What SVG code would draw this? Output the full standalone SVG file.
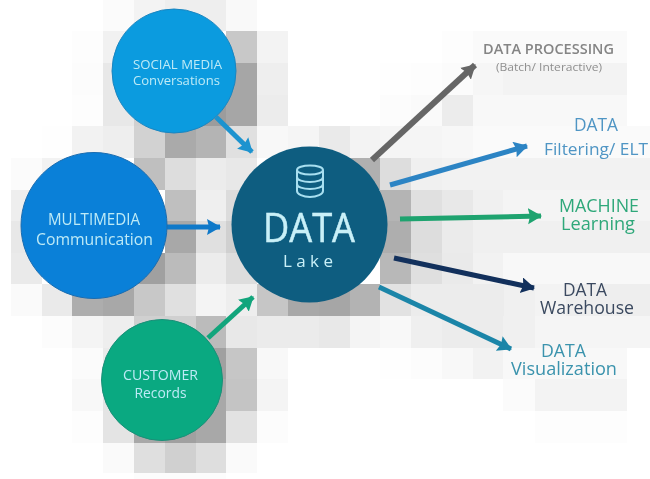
<svg xmlns="http://www.w3.org/2000/svg" width="650" height="479" viewBox="0 0 650 479">
<style>
text{font-family:"Open Sans","Noto Sans","Liberation Sans",sans-serif;text-anchor:middle;filter:url(#soft)}
.in{fill:#bdeaf6}
.lw{stroke:#a8dff0;fill:none;stroke-width:2}
.c{fill:none;stroke-width:5}
</style>
<defs>
<filter id="soft" x="-10%" y="-20%" width="120%" height="140%"><feGaussianBlur stdDeviation="0.55"/></filter>
<filter id="tile" x="-5%" y="-5%" width="110%" height="110%"><feGaussianBlur stdDeviation="0.5"/></filter>
<marker id="mSoc" markerUnits="userSpaceOnUse" markerWidth="18" markerHeight="18" refX="13" refY="8" orient="auto"><path d="M0 0L14 8L0 16L2 8Z" fill="#1c93cf"/></marker>
<marker id="mMul" markerUnits="userSpaceOnUse" markerWidth="18" markerHeight="18" refX="13" refY="8" orient="auto"><path d="M0 0L14 8L0 16L2 8Z" fill="#0f79c9"/></marker>
<marker id="mCus" markerUnits="userSpaceOnUse" markerWidth="18" markerHeight="18" refX="13" refY="8" orient="auto"><path d="M0 0L14 8L0 16L2 8Z" fill="#12a57c"/></marker>
<marker id="mPro" markerUnits="userSpaceOnUse" markerWidth="18" markerHeight="18" refX="13" refY="8" orient="auto"><path d="M0 0L14 8L0 16L2 8Z" fill="#666"/></marker>
<marker id="mFil" markerUnits="userSpaceOnUse" markerWidth="18" markerHeight="18" refX="13" refY="8" orient="auto"><path d="M0 0L14 8L0 16L2 8Z" fill="#2c84c4"/></marker>
<marker id="mMac" markerUnits="userSpaceOnUse" markerWidth="18" markerHeight="18" refX="13" refY="8" orient="auto"><path d="M0 0L14 8L0 16L2 8Z" fill="#1ea36f"/></marker>
<marker id="mWar" markerUnits="userSpaceOnUse" markerWidth="18" markerHeight="18" refX="13" refY="8" orient="auto"><path d="M0 0L14 8L0 16L2 8Z" fill="#12305c"/></marker>
<marker id="mVis" markerUnits="userSpaceOnUse" markerWidth="18" markerHeight="18" refX="13" refY="8" orient="auto"><path d="M0 0L14 8L0 16L2 8Z" fill="#1b85a8"/></marker>
</defs>
<rect width="650" height="479" fill="#fff"/>
<g id="backdrop" filter="url(#tile)">
<rect x="103" y="0" width="31" height="31" fill="#fbfbfb"/><rect x="134" y="0" width="31" height="31" fill="#f3f3f3"/><rect x="165" y="0" width="61" height="31" fill="#eee"/><rect x="226" y="0" width="31" height="31" fill="#f9f9f9"/>
<rect x="72" y="31" width="31" height="32" fill="#fdfdfd"/><rect x="103" y="31" width="31" height="32" fill="#f1f1f1"/><rect x="226" y="31" width="31" height="32" fill="#c8c8c8"/><rect x="257" y="31" width="31" height="32" fill="#f3f3f3"/>
<rect x="72" y="63" width="31" height="32" fill="#fcfcfc"/><rect x="103" y="63" width="31" height="32" fill="#e8e8e8"/><rect x="226" y="63" width="31" height="32" fill="#a6a6a6"/><rect x="257" y="63" width="31" height="32" fill="#eee"/>
<rect x="72" y="95" width="31" height="31" fill="#fdfdfd"/><rect x="103" y="95" width="31" height="31" fill="#e8e8e8"/><rect x="134" y="95" width="31" height="31" fill="#d0d0d0"/><rect x="196" y="95" width="30" height="31" fill="#9c9c9c"/><rect x="226" y="95" width="31" height="31" fill="#a6a6a6"/><rect x="257" y="95" width="31" height="31" fill="#ececec"/>
<rect x="42" y="126" width="30" height="32" fill="#fefefe"/><rect x="72" y="126" width="31" height="32" fill="#f2f2f2"/><rect x="103" y="126" width="31" height="32" fill="#eee"/><rect x="134" y="126" width="31" height="32" fill="#d2d2d2"/><rect x="165" y="126" width="31" height="32" fill="#aaa"/><rect x="196" y="126" width="30" height="32" fill="#b4b4b4"/><rect x="226" y="126" width="31" height="32" fill="#e0e0e0"/><rect x="257" y="126" width="31" height="32" fill="#f8f8f8"/><rect x="288" y="126" width="31" height="32" fill="#f5f5f5"/><rect x="319" y="126" width="31" height="32" fill="#eaeaea"/><rect x="350" y="126" width="30" height="32" fill="#f3f3f3"/><rect x="380" y="126" width="62" height="32" fill="#f5f5f5"/><rect x="442" y="126" width="31" height="32" fill="#f7f7f7"/><rect x="473" y="126" width="177" height="32" fill="#fafafa"/>
<rect x="442" y="31" width="31" height="32" fill="#fdfdfd"/><rect x="473" y="31" width="154" height="32" fill="#fafafa"/>
<rect x="380" y="63" width="31" height="32" fill="#fefefe"/><rect x="411" y="63" width="31" height="32" fill="#fdfdfd"/><rect x="442" y="63" width="31" height="32" fill="#fbfbfb"/><rect x="473" y="63" width="30" height="32" fill="#f6f6f6"/><rect x="503" y="63" width="124" height="32" fill="#f3f3f3"/>
<rect x="380" y="95" width="31" height="31" fill="#fcfcfc"/><rect x="411" y="95" width="31" height="31" fill="#fafafa"/><rect x="442" y="95" width="31" height="31" fill="#ececec"/><rect x="473" y="95" width="154" height="31" fill="#f8f8f8"/>
<rect x="11" y="158" width="31" height="32" fill="#fbfbfb"/><rect x="42" y="158" width="30" height="32" fill="#f2f2f2"/><rect x="134" y="158" width="31" height="32" fill="#bfbfbf"/><rect x="165" y="158" width="31" height="32" fill="#ddd"/><rect x="196" y="158" width="30" height="32" fill="#ececec"/><rect x="226" y="158" width="31" height="32" fill="#e8e8e8"/><rect x="350" y="158" width="30" height="32" fill="#b0b0b0"/><rect x="380" y="158" width="31" height="32" fill="#ddd"/><rect x="411" y="158" width="31" height="32" fill="#f0f0f0"/><rect x="442" y="158" width="208" height="32" fill="#f2f2f2"/>
<rect x="11" y="190" width="31" height="31" fill="#eee"/><rect x="165" y="190" width="31" height="31" fill="#bfbfbf"/><rect x="196" y="190" width="30" height="31" fill="#efefef"/><rect x="226" y="190" width="31" height="31" fill="#dcdcdc"/><rect x="380" y="190" width="31" height="31" fill="#b4b4b4"/><rect x="411" y="190" width="31" height="31" fill="#e0e0e0"/><rect x="442" y="190" width="31" height="31" fill="#e8e8e8"/><rect x="473" y="190" width="30" height="31" fill="#f0f0f0"/><rect x="503" y="190" width="147" height="31" fill="#f4f4f4"/>
<rect x="11" y="221" width="31" height="32" fill="#e8e8e8"/><rect x="165" y="221" width="31" height="32" fill="#a8a8a8"/><rect x="196" y="221" width="30" height="32" fill="#e0e0e0"/><rect x="226" y="221" width="31" height="32" fill="#d0d0d0"/><rect x="380" y="221" width="31" height="32" fill="#aeaeae"/><rect x="411" y="221" width="31" height="32" fill="#ddd"/><rect x="442" y="221" width="31" height="32" fill="#ebebeb"/><rect x="473" y="221" width="177" height="32" fill="#f0f0f0"/>
<rect x="11" y="253" width="31" height="31" fill="#eaeaea"/><rect x="134" y="253" width="31" height="31" fill="#a0a0a0"/><rect x="165" y="253" width="31" height="31" fill="#bbb"/><rect x="196" y="253" width="30" height="31" fill="#ececec"/><rect x="226" y="253" width="31" height="31" fill="#ddd"/><rect x="380" y="253" width="31" height="31" fill="#b8b8b8"/><rect x="411" y="253" width="31" height="31" fill="#dfdfdf"/><rect x="442" y="253" width="31" height="31" fill="#eaeaea"/><rect x="473" y="253" width="30" height="31" fill="#f2f2f2"/><rect x="503" y="253" width="147" height="31" fill="#f8f8f8"/>
<rect x="11" y="284" width="31" height="32" fill="#fafafa"/><rect x="42" y="284" width="30" height="32" fill="#eaeaea"/><rect x="72" y="284" width="31" height="32" fill="#adadad"/><rect x="103" y="284" width="31" height="32" fill="#a8a8a8"/><rect x="134" y="284" width="31" height="32" fill="#c8c8c8"/><rect x="165" y="284" width="31" height="32" fill="#e0e0e0"/><rect x="196" y="284" width="30" height="32" fill="#f4f4f4"/><rect x="226" y="284" width="31" height="32" fill="#eee"/><rect x="257" y="284" width="31" height="32" fill="#c6c6c6"/><rect x="288" y="284" width="31" height="32" fill="#a8a8a8"/><rect x="319" y="284" width="31" height="32" fill="#a6a6a6"/><rect x="350" y="284" width="30" height="32" fill="#b3b3b3"/><rect x="380" y="284" width="31" height="32" fill="#e2e2e2"/><rect x="411" y="284" width="93" height="32" fill="#ececec"/><rect x="504" y="284" width="31" height="32" fill="#f0f0f0"/><rect x="535" y="284" width="31" height="32" fill="#f3f3f3"/><rect x="566" y="284" width="84" height="32" fill="#eee"/>
<rect x="42" y="316" width="30" height="32" fill="#fcfcfc"/><rect x="72" y="316" width="31" height="32" fill="#f4f4f4"/><rect x="103" y="316" width="31" height="32" fill="#eee"/><rect x="134" y="316" width="62" height="32" fill="#d0d0d0"/><rect x="196" y="316" width="30" height="32" fill="#bbb"/><rect x="226" y="316" width="31" height="32" fill="#e8e8e8"/><rect x="257" y="316" width="62" height="32" fill="#ebebeb"/><rect x="319" y="316" width="31" height="32" fill="#e8e8e8"/><rect x="350" y="316" width="30" height="32" fill="#f4f4f4"/><rect x="380" y="316" width="31" height="32" fill="#f8f8f8"/><rect x="411" y="316" width="31" height="32" fill="#efefef"/><rect x="442" y="316" width="61" height="32" fill="#ececec"/><rect x="503" y="316" width="32" height="32" fill="#f0f0f0"/><rect x="535" y="316" width="115" height="32" fill="#f5f5f5"/>
<rect x="72" y="348" width="31" height="31" fill="#fbfbfb"/><rect x="103" y="348" width="31" height="31" fill="#eaeaea"/><rect x="196" y="348" width="30" height="31" fill="#a0a0a0"/><rect x="226" y="348" width="31" height="31" fill="#c6c6c6"/><rect x="257" y="348" width="31" height="31" fill="#f8f8f8"/><rect x="380" y="348" width="31" height="31" fill="#fefefe"/><rect x="411" y="348" width="31" height="31" fill="#fcfcfc"/><rect x="442" y="348" width="31" height="31" fill="#f8f8f8"/><rect x="473" y="348" width="30" height="31" fill="#f2f2f2"/><rect x="503" y="348" width="124" height="31" fill="#f8f8f8"/>
<rect x="72" y="379" width="31" height="32" fill="#f8f8f8"/><rect x="103" y="379" width="31" height="32" fill="#e4e4e4"/><rect x="196" y="379" width="30" height="32" fill="#a8a8a8"/><rect x="226" y="379" width="31" height="32" fill="#c4c4c4"/><rect x="257" y="379" width="31" height="32" fill="#f4f4f4"/><rect x="503" y="379" width="32" height="32" fill="#fbfbfb"/><rect x="535" y="379" width="92" height="32" fill="#f3f3f3"/>
<rect x="72" y="411" width="31" height="32" fill="#fdfdfd"/><rect x="103" y="411" width="31" height="32" fill="#e4e4e4"/><rect x="134" y="411" width="31" height="32" fill="#a8a8a8"/><rect x="165" y="411" width="31" height="32" fill="#a0a0a0"/><rect x="196" y="411" width="30" height="32" fill="#a8a8a8"/><rect x="226" y="411" width="31" height="32" fill="#e2e2e2"/><rect x="257" y="411" width="31" height="32" fill="#fcfcfc"/><rect x="535" y="411" width="92" height="32" fill="#fdfdfd"/>
<rect x="103" y="443" width="31" height="30" fill="#fafafa"/><rect x="134" y="443" width="31" height="30" fill="#dfdfdf"/><rect x="165" y="443" width="31" height="30" fill="#d0d0d0"/><rect x="196" y="443" width="30" height="30" fill="#dedede"/><rect x="226" y="443" width="31" height="30" fill="#fafafa"/>
<rect x="134" y="473" width="92" height="6" fill="#fcfcfc"/>
</g>
<g id="connectors">
<path class="c" d="M216 117L252 152" stroke="#1c93cf" marker-end="url(#mSoc)"/>
<path class="c" d="M167 227L220 227" stroke="#0f79c9" marker-end="url(#mMul)"/>
<path class="c" d="M208 338L253 297" stroke="#12a57c" marker-end="url(#mCus)"/>
<path class="c" d="M372 160L475 65" stroke="#666" style="stroke-width:6" marker-end="url(#mPro)"/>
<path class="c" d="M390 185L527 146" stroke="#2c84c4" marker-end="url(#mFil)"/>
<path class="c" d="M400 219L541 216" stroke="#1ea36f" marker-end="url(#mMac)"/>
<path class="c" d="M394 258L534 288" stroke="#12305c" marker-end="url(#mWar)"/>
<path class="c" d="M379 287L511 349" stroke="#1b85a8" marker-end="url(#mVis)"/>
</g>
<g id="social"><circle cx="174" cy="71" r="62" fill="#0b9bdf" stroke="#1a85c0" stroke-width="1"/>
<text class="in" x="177.500" y="69" font-size="13" textLength="89" lengthAdjust="spacingAndGlyphs">SOCIAL MEDIA</text>
<text class="in" x="176.500" y="85" font-size="13.500" textLength="87" lengthAdjust="spacingAndGlyphs">Conversations</text></g>
<g id="multimedia"><circle cx="94" cy="225.500" r="73" fill="#0a80d8" stroke="#1a6cb0" stroke-width="1"/>
<text class="in" x="94" y="225" font-size="16" textLength="92" lengthAdjust="spacingAndGlyphs">MULTIMEDIA</text>
<text class="in" x="94.500" y="245" font-size="17" textLength="117" lengthAdjust="spacingAndGlyphs">Communication</text></g>
<g id="customer"><circle cx="162" cy="380" r="60.500" fill="#0aa981" stroke="#1c8f78" stroke-width="1"/>
<text class="in" x="160.500" y="380" font-size="14.500" textLength="75" lengthAdjust="spacingAndGlyphs">CUSTOMER</text>
<text class="in" x="160.500" y="398" font-size="14.500" textLength="52" lengthAdjust="spacingAndGlyphs">Records</text></g>
<g id="lake"><circle cx="309.500" cy="224.500" r="78" fill="#0e5d80"/>
<g filter="url(#soft)"><ellipse class="lw" cx="310" cy="170" rx="13" ry="4.500"/><path class="lw" d="M297 170V177C297 180 303 182 310 182C317 182 323 180 323 177V170M297 177V184C297 187 303 189 310 189C317 189 323 187 323 184V177M297 184V191C297 194 303 197 310 197C317 197 323 194 323 191V184"/></g>
<text x="309" y="242" font-size="40" fill="#c9f0f8" stroke="#c9f0f8" stroke-width="0.5" textLength="92" lengthAdjust="spacingAndGlyphs">DATA</text>
<text x="308" y="267" font-size="17" fill="#c9f0f8" textLength="50" lengthAdjust="spacing">Lake</text></g>
<g id="processing"><text x="548.500" y="54" font-size="14" font-weight="600" fill="#858585" textLength="131" lengthAdjust="spacingAndGlyphs">DATA PROCESSING</text>
<text x="549" y="71" font-size="10.500" fill="#8f8f8f" textLength="106" lengthAdjust="spacingAndGlyphs">(Batch/ Interactive)</text></g>
<g id="filtering"><text x="596" y="131" font-size="19" fill="#4f95c4" textLength="44" lengthAdjust="spacingAndGlyphs">DATA</text>
<text x="596" y="155" font-size="16.500" fill="#4f95c4" textLength="104" lengthAdjust="spacingAndGlyphs">Filtering/ ELT</text></g>
<g id="machine"><text x="599" y="212" font-size="19" fill="#2fa87a" textLength="80" lengthAdjust="spacingAndGlyphs">MACHINE</text>
<text x="598" y="230" font-size="18.500" fill="#2fa87a" textLength="74" lengthAdjust="spacingAndGlyphs">Learning</text></g>
<g id="warehouse"><text x="585" y="296" font-size="18" fill="#3b4a60" textLength="44" lengthAdjust="spacingAndGlyphs">DATA</text>
<text x="587" y="314" font-size="18.500" fill="#3b4a60" textLength="94" lengthAdjust="spacingAndGlyphs">Warehouse</text></g>
<g id="visualization"><text x="563.500" y="357" font-size="18" fill="#3a93ad" textLength="45" lengthAdjust="spacingAndGlyphs">DATA</text>
<text x="564" y="375" font-size="18.500" fill="#3a93ad" textLength="106" lengthAdjust="spacingAndGlyphs">Visualization</text></g>
</svg>
